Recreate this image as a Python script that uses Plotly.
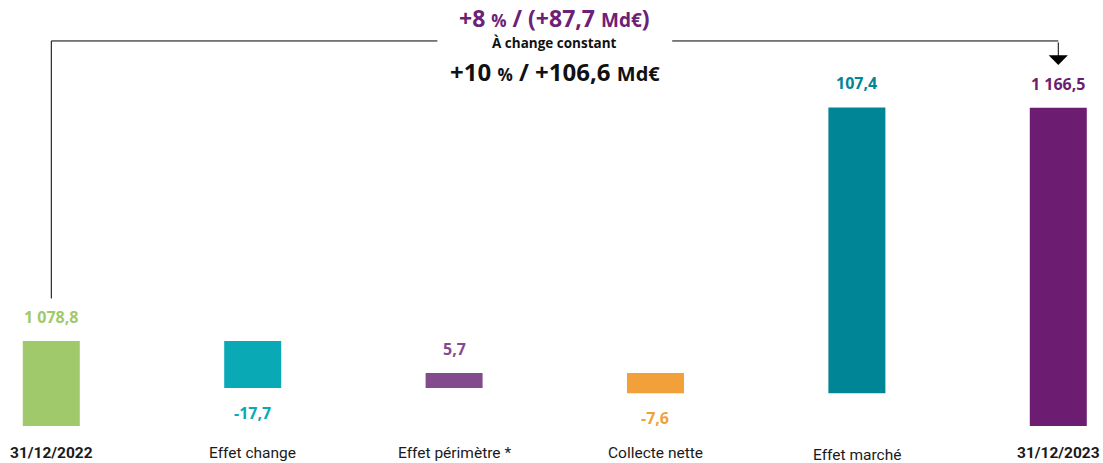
import plotly.graph_objects as go

categories = ["31/12/2022", "Effet change", "Effet périmètre *", "Collecte nette", "Effet marché", "31/12/2023"]
values = [1078.8, -17.7, 5.7, -7.6, 107.4, 1166.5]
is_total = [True, False, False, False, False, True]
labels = ["1 078,8", "-17,7", "5,7", "-7,6", "107,4", "1 166,5"]
colors = ["#a0c96b", "#0aa9b6", "#844a8e", "#f2a13a", "#008597", "#6c1d71"]

title_top = "+8 <span style='font-size:17px'>%</span> / (+87,7 <span style='font-size:19px'>Md€</span>)"
title_mid = "À change constant"
title_bot = "+10 <span style='font-size:17px'>%</span> / +106,6 <span style='font-size:20px'>Md€</span>"

# axe cassé : l'échelle ne démarre pas à zéro
y_lo = 1046.85
y_hi = 1207.0
bracket_y = 1191.6

bases, heights = [], []
running = 0
for v, tot in zip(values, is_total):
    if tot:
        bases.append(y_lo)
        heights.append(v - y_lo)
        running = v
    else:
        bases.append(running)
        heights.append(v)
        running += v

x = list(range(len(categories)))

fig = go.Figure()
fig.add_trace(go.Bar(x=x, y=heights, base=bases, width=0.283,
                     marker=dict(color=colors, line=dict(width=0)),
                     hoverinfo="skip"))

annotations = []
for i, (b, h) in enumerate(zip(bases, heights)):
    if h >= 0:
        annotations.append(dict(x=i, y=b + h, yshift=24, text="<b>" + labels[i] + "</b>"))
    else:
        annotations.append(dict(x=i, y=b + h, yshift=-25, text="<b>" + labels[i] + "</b>"))
    annotations[-1].update(xref="x", yref="y", showarrow=False, yanchor="middle",
                           font=dict(family="Open Sans", size=16, color=colors[i]))

for i, c in enumerate(categories):
    txt = "<b>" + c + "</b>" if is_total[i] else c
    annotations.append(dict(x=i, y=0, xref="x", yref="paper", yanchor="middle",
                            yshift=-29 if c == "Effet marché" else -27,
                            text=txt, showarrow=False,
                            font=dict(family="Roboto", size=15.5, color="#1a1a1a")))

annotations += [
    dict(x=2.5, y=1, xref="x", yref="paper", yanchor="middle", yshift=-18, showarrow=False,
         text="<b>" + title_top + "</b>",
         font=dict(family="Open Sans", size=23, color="#6d2077")),
    dict(x=2.5, y=1, xref="x", yref="paper", yanchor="middle", yshift=-43, showarrow=False,
         text="<b>" + title_mid + "</b>",
         font=dict(family="Open Sans", size=13.5, color="#111111")),
    dict(x=2.5, y=1, xref="x", yref="paper", yanchor="middle", yshift=-71, showarrow=False,
         text="<b>" + title_bot + "</b>",
         font=dict(family="Open Sans", size=24, color="#111111")),
    dict(x=5, y=bracket_y - 9.0, xref="x", yref="y", ax=0, ay=-24, text="",
         showarrow=True, arrowhead=1, arrowsize=3.2, arrowwidth=1, arrowcolor="#000000"),
]

line = dict(color="#000000", width=1)
shapes = [
    dict(type="line", xref="x", yref="y", x0=0, x1=0, y0=values[0] + 16, y1=bracket_y, line=line),
    dict(type="line", xref="x", yref="y", x0=0, x1=1.917, y0=bracket_y, y1=bracket_y, line=line),
    dict(type="line", xref="x", yref="y", x0=3.083, x1=5, y0=bracket_y, y1=bracket_y, line=line),
]

fig.update_layout(
    width=1103, height=463,
    margin=dict(l=0, r=0, t=0, b=37),
    plot_bgcolor="white", paper_bgcolor="white",
    showlegend=False,
    xaxis=dict(range=[-0.2547, 5.222], visible=False, fixedrange=True),
    yaxis=dict(range=[y_lo, y_hi], visible=False, fixedrange=True),
    annotations=annotations,
    shapes=shapes,
)

fig.write_html("out.html", config={"displayModeBar": False},
               post_script="document.body.style.margin='0px';")
